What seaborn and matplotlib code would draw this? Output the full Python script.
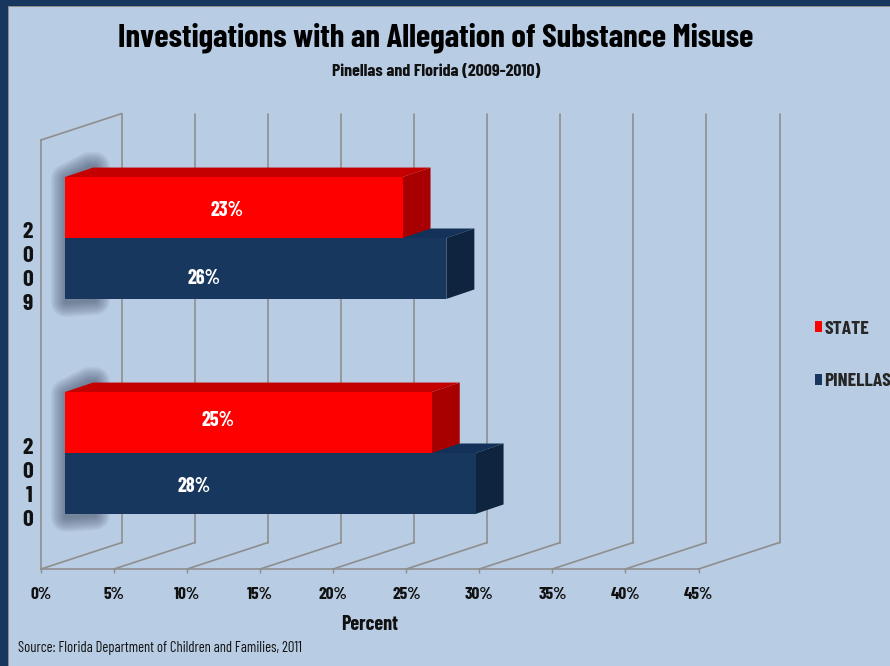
import matplotlib
matplotlib.use('Agg')
import matplotlib.pyplot as plt
import pandas as pd
import seaborn as sns
from matplotlib.patches import Polygon, Rectangle
from matplotlib.transforms import ScaledTranslation

# chart values
years = ['2009', '2009', '2010', '2010']
series = ['STATE', 'PINELLAS', 'STATE', 'PINELLAS']
percent = [23.1, 26.1, 25.1, 28.1]
x_ticks = [0, 5, 10, 15, 20, 25, 30, 35, 40, 45]
title = 'Investigations with an Allegation of Substance Misuse'
subtitle = 'Pinellas and Florida (2009-2010)'
source = 'Source: Florida Department of Children and Families, 2011'

W, H = 890, 666
BG = '#B8CCE4'
NAVY = '#17375E'
GRID = '#8E8E8E'
FRONT = {'STATE': '#FF0000', 'PINELLAS': '#17375E'}
TOP = {'STATE': '#C40000', 'PINELLAS': '#14315A'}
SIDE = {'STATE': '#A80000', 'PINELLAS': '#0F243E'}

sns.set_theme(style='white')
plt.rcParams['font.family'] = ['Barlow Condensed', 'PT Sans Narrow', 'Liberation Sans', 'DejaVu Sans']
plt.rcParams['font.weight'] = 'bold'
plt.rcParams['axes.labelweight'] = 'bold'

df = pd.DataFrame({'year': years, 'series': series, 'percent': percent})

fig = plt.figure(figsize=(W / 100, H / 100), dpi=100, facecolor=BG)
ax = fig.add_axes([41 / W, 1 - 569 / H, (698.5 - 41) / W, (569 - 140) / H])
ax.patch.set_alpha(0)

sns.barplot(data=df, y='year', x='percent', hue='series', orient='h',
            hue_order=['STATE', 'PINELLAS'], palette=FRONT, saturation=1,
            width=0.567, ax=ax, zorder=3)

ax.set_xlim(0, 45)
ax.set_ylim((569 - 238) / 215, (140 - 238) / 215)

# pixel sizes in data units
px_x = 45 / (698.5 - 41)
px_y = 1 / 215


def shift(dx, dy):
    return ax.transData + ScaledTranslation(dx / 100, dy / 100, fig.dpi_scale_trans)


back = shift(81, 26.5)
front = shift(24, 0)

# chart walls
y_floor, y_top = ax.get_ylim()
for v in x_ticks:
    ax.plot([v, v], [y_floor, y_top], color=GRID, lw=1.2, transform=back, clip_on=False, zorder=1)
    ax.plot([v, v + 81 * px_x], [y_floor, y_floor - 26.5 * px_y], color=GRID, lw=1.2, clip_on=False, zorder=1)
ax.plot([0, 81 * px_x], [y_top, y_top - 26.5 * px_y], color=GRID, lw=1.2, clip_on=False, zorder=1)

# 3D bars, built from the bars seaborn drew
for container, name in zip(ax.containers, ['STATE', 'PINELLAS']):
    base_z = 2 if name == 'PINELLAS' else 3
    for bar in container:
        x0, w = bar.get_x(), bar.get_width()
        y0, h = bar.get_y(), bar.get_height()
        x1, y1 = x0 + w, y0 + h
        dx, dy = 28 * px_x, 9.5 * px_y
        bar.set_transform(front)
        bar.set_edgecolor('none')
        bar.set_zorder(4 if name == 'PINELLAS' else 3.5)
        ax.add_patch(Polygon([(x0, y0), (x0 + dx, y0 - dy), (x1 + dx, y0 - dy), (x1, y0)],
                             fc=TOP[name], ec='none', transform=front, zorder=base_z))
        ax.add_patch(Polygon([(x1, y0), (x1 + dx, y0 - dy), (x1 + dx, y1 - dy), (x1, y1)],
                             fc=SIDE[name], ec='none', transform=front, zorder=base_z + 0.1))

# soft shadow behind the left end of each bar pair
for y_mid in [0, 1]:
    top_y = y_mid - 60 * px_y
    bot_y = y_mid + 61 * px_y
    pts = [(1 * px_x, top_y + 1 * px_y), (24 * px_x, top_y - 11 * px_y),
           (30 * px_x, top_y - 11 * px_y), (30 * px_x, bot_y + 1 * px_y),
           (1 * px_x, bot_y + 3 * px_y)]
    for lw in range(22, 0, -1):
        ax.add_patch(Polygon(pts, fc='none', ec='#46546A', lw=lw, alpha=0.035,
                             joinstyle='round', transform=front, zorder=1.5))

# value labels sit where the original put them
label_px = [(227, 210), (204, 278), (218, 420), (194, 487)]
for (lx, ly), v in zip(label_px, percent):
    ax.text((lx - 41) * px_x, (ly - 238) * px_y, f'{round(v)}%', color='white', fontsize=14.5,
            ha='center', va='center', zorder=6)

# axes furniture
sns.despine(ax=ax, top=True, right=True, left=False, bottom=False)
for side in ['left', 'bottom']:
    ax.spines[side].set_color(GRID)
    ax.spines[side].set_linewidth(1.2)
ax.set_xticks(x_ticks)
ax.set_xticklabels([f'{v}%' for v in x_ticks], fontsize=12.5, color='#111111')
ax.tick_params(axis='x', length=3, width=1, color=GRID, pad=10, bottom=True)
ax.tick_params(axis='y', length=0, pad=6)
ax.set_yticks([0, 1])
ax.set_yticklabels(['\n'.join(y) for y in ['2009', '2010']], fontsize=17, color='#111111', linespacing=1.25)
for tl in ax.get_yticklabels():
    tl.set_transform(tl.get_transform() + ScaledTranslation(0, -0.265, fig.dpi_scale_trans))
ax.set_xlabel('Percent', fontsize=14.5, color='#111111', labelpad=9)
ax.set_ylabel('')

# legend
handles, labels = ax.get_legend_handles_labels()
leg = ax.legend(handles, labels, loc='center left', bbox_to_anchor=(815 / W, 1 - 355.5 / H),
                bbox_transform=fig.transFigure, frameon=False, handlelength=0.37,
                handleheight=0.5, handletextpad=0.12, labelspacing=1.85, borderaxespad=0,
                borderpad=0, prop={'weight': 'bold', 'size': 14})
for patch in leg.get_patches():
    patch.set_edgecolor('none')

# titles and source
fig.text(436 / W, 1 - 38 / H, title, fontsize=23.5, ha='center', va='center', color='black')
fig.text(436 / W, 1 - 71 / H, subtitle, fontsize=12.9, ha='center', va='center', color='#111111')
fig.text(18 / W, 1 - 648 / H, source, fontsize=10.5, fontweight='normal', ha='left', va='center', color='#111111')

# dark slide border
for x, y, w, h, c in [(0, 0, 8, H, NAVY), (0, H - 6, W, 6, NAVY), (8, 0, 1, H - 6, GRID), (8, H - 7, W, 1, GRID)]:
    fig.add_artist(Rectangle((x / W, y / H), w / W, h / H, fc=c, ec='none', transform=fig.transFigure))

fig.savefig('out.png', dpi=100, facecolor=BG)
